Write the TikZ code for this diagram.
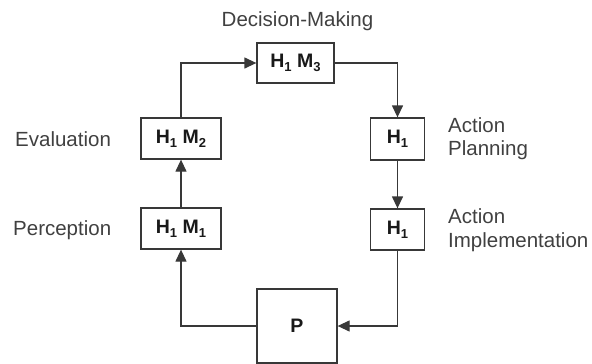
\documentclass[tikz,border=0pt]{standalone}
\usepackage{fontspec}
\setmainfont{Liberation Sans}
\usetikzlibrary{arrows.meta}
\definecolor{linegray}{HTML}{383838}
\definecolor{labelgray}{HTML}{404040}
\newcommand{\idx}[1]{\raisebox{-0.22em}{\fontsize{13}{14}\selectfont #1}}
\begin{document}
\begin{tikzpicture}[x=1pt,y=-1pt,
  stage/.style={draw=linegray,line width=1.3pt,inner sep=0pt,
    font=\fontsize{19.5}{21}\selectfont\bfseries,text=black!90},
  caption/.style={font=\fontsize{20.5}{23}\selectfont,text=labelgray,
    inner sep=0pt,anchor=base west},
  flow/.style={draw=linegray,line width=1.3pt,
    -{Triangle[length=12pt,width=11pt]}}]
  \useasboundingbox (0,0) rectangle (592,364);

  % stages of the loop
  \node[stage,minimum width=77pt,minimum height=40pt] (dm) at (295.5,63) {H\idx{1} M\idx{3}};
  \node[stage,minimum width=80pt,minimum height=41pt] (ev) at (181,138.5) {H\idx{1} M\idx{2}};
  \node[stage,minimum width=80pt,minimum height=41pt] (pe) at (181,228.5) {H\idx{1} M\idx{1}};
  \node[stage,minimum width=54pt,minimum height=42pt] (ap) at (397.5,139) {H\idx{1}};
  \node[stage,minimum width=54pt,minimum height=41pt] (ai) at (397.5,229.5) {H\idx{1}};
  \node[stage,minimum width=80pt,minimum height=74pt] (pr) at (297,326) {P};

  % stage captions
  \node[caption,anchor=base] (capdm) at (297.5,26) {Decision-Making};
  \node[caption] (capev) at (15,146) {Evaluation};
  \node[caption] (cappe) at (13,235) {Perception};
  \node[caption] (capap1) at (448,132) {Action};
  \node[caption] (capap2) at (448,155) {Planning};
  \node[caption] (capai1) at (448,223) {Action};
  \node[caption] (capai2) at (448,247) {Implementation};

  % connectors
  \draw[flow] (pr.west) -| (pe.south);
  \draw[flow] (pe.north) -- (ev.south);
  \draw[flow] (ev.north) |- (dm.west);
  \draw[flow] (dm.east) -| (ap.north);
  \draw[flow] (ap.south) -- (ai.north);
  \draw[flow] (ai.south) |- (pr.east);
\end{tikzpicture}
\end{document}
